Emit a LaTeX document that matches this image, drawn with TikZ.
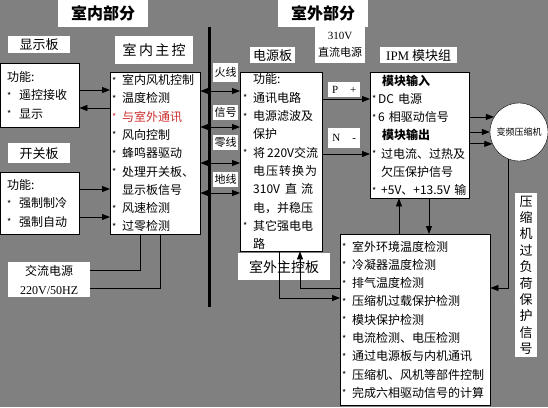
\documentclass[tikz,border=0pt]{standalone}
\usepackage{fontspec}
\newfontfamily\cjk{Noto Sans CJK SC}
\newfontfamily\lat{Liberation Serif}
\usetikzlibrary{arrows.meta}
\definecolor{panelgray}{RGB}{128,128,128}
\definecolor{linkred}{RGB}{205,45,45}
\newcommand{\itemstar}[1][10pt]{\makebox[#1][l]{\raisebox{0.5pt}{\small *}}}

\begin{document}
\begin{tikzpicture}[x=1pt,y=-1pt,>={Triangle[length=8pt,width=6pt]},
  title box/.style={fill=white,inner sep=0pt,anchor=north west,minimum height=27pt,font=\cjk\bfseries\fontsize{16}{16}\selectfont},
  tag box/.style={fill=white,inner sep=0pt,anchor=north west,align=center,font=\cjk\fontsize{13}{15}\selectfont},
  func box/.style={draw=black,fill=white,anchor=north west,align=left,inner xsep=2pt,inner ysep=0pt,font=\cjk\fontsize{12}{18.3}\selectfont},
  wire tag/.style={fill=white,inner sep=0pt,anchor=north west,minimum width=25pt,minimum height=15pt,font=\cjk\fontsize{11}{11}\selectfont},
  link/.style={->,line width=0.8pt}]
\tikzstyle{plain link} = [draw,line width=0.8pt,-]

\useasboundingbox[fill=panelgray] (0,0) rectangle (548,407);

% titles
\node[title box,minimum width=90pt] (indoor) at (58,0) {室内部分};
\node[title box,minimum width=90pt] (outdoor) at (278,0) {室外部分};
\node[tag box,minimum width=50pt,minimum height=36pt,font=\cjk\fontsize{11}{17}\selectfont] (dcbus) at (315,27) {{\lat 310V}\\直流电源};

% board names
\node[tag box,minimum width=62pt,minimum height=17pt] (disptag) at (8,36) {显示板};
\node[tag box,minimum width=78pt,minimum height=28pt,font=\cjk\fontsize{14}{14}\selectfont] (maintag) at (115,36) {室\,内\,主\,控};
\node[tag box,minimum width=45pt,minimum height=16pt] (powtag) at (250,47) {电源板};
\node[tag box,minimum width=77pt,minimum height=16pt] (ipmtag) at (380,47) {{\lat IPM}\ 模块组};
\node[tag box,minimum width=62pt,minimum height=20pt] (swtag) at (8,143) {开关板};
\node[tag box,minimum width=82pt,minimum height=35pt,font=\cjk\fontsize{12}{19}\selectfont] (actag) at (8,262) {交流电源\\{\lat 220V/50HZ}};

% indoor side
\node[func box,inner xsep=7pt,text width=65pt,minimum height=64pt] (dispbox) at (0,63)
  {功能:\\\itemstar[12pt]遥控接收\\\itemstar[12pt]显示};
\node[func box,inner xsep=7pt,text width=65pt,minimum height=62pt] (swbox) at (0,172)
  {功能:\\\itemstar[12pt]强制制冷\\\itemstar[12pt]强制自动};
\node[func box,text width=86pt,minimum height=162pt] (mainbox) at (110,72)
  {\itemstar 室内风机控制\\
   \itemstar 温度检测\\
   {\color{linkred}\itemstar 与室外通讯}\\
   \itemstar 风向控制\\
   \itemstar 蜂鸣器驱动\\
   \itemstar 处理开关板、\\
   \hspace*{10pt}显示板信号\\
   \itemstar 风速检测\\
   \itemstar 过零检测};

% outdoor side
\node[func box,inner xsep=3pt,text width=76pt,minimum height=179pt] (powbox) at (240,72)
  {\hspace*{10pt}功能:\\
   \itemstar 通讯电路\\
   \itemstar 电源滤波及\\
   \hspace*{10pt}保护\\
   \itemstar 将\,220V交流\\
   \hspace*{10pt}电\hspace{1pt}压\hspace{1pt}转\hspace{1pt}换\hspace{1pt}为\\
   \hspace*{10pt}310V\hspace{5pt}直\hspace{4pt}流\\
   \hspace*{10pt}电，并稳压\\
   \itemstar 其它强电电\\
   \hspace*{10pt}路};
\node[tag box,minimum width=92pt,minimum height=27pt,font=\cjk\fontsize{14}{14}\selectfont] (outtag) at (238,253) {室外主控板};
\node[func box,text width=95pt,minimum height=126pt] (ipmbox) at (370,72)
  {\hspace*{10pt}{\bfseries 模块输入}\\
   \itemstar[6pt]DC 电源\\
   \itemstar[6pt]6 相驱动信号\\
   \hspace*{10pt}{\bfseries 模块输出}\\
   \itemstar[9pt]过电流、过热及\\
   \hspace*{9pt}欠压保护信号\\
   \itemstar[9pt]+5V、+13.5V 输};
\node[func box,text width=146pt,minimum height=171pt] (outbox) at (340,234)
  {\itemstar 室外环境温度检测\\
   \itemstar 冷凝器温度检测\\
   \itemstar 排气温度检测\\
   \itemstar 压缩机过载保护检测\\
   \itemstar 模块保护检测\\
   \itemstar 电流检测、电压检测\\
   \itemstar 通过电源板与内机通讯\\
   \itemstar 压缩机、风机等部件控制\\
   \itemstar 完成六相驱动信号的计算};
\node[tag box,minimum width=32pt,minimum height=15pt,font=\lat\fontsize{11}{11}\selectfont] (pplus) at (328,82) {P\hspace{12pt}+};
\node[tag box,minimum width=32pt,minimum height=20pt,font=\lat\fontsize{11}{11}\selectfont] (nminus) at (328,128) {N\hspace{12pt}-};
\node[circle,draw=black,fill=white,minimum size=58pt,inner sep=0pt,font=\cjk\fontsize{9}{9}\selectfont] (comp) at (519,132) {变频压缩机};
\node[tag box,minimum width=22pt,minimum height=164pt,font=\cjk\fontsize{13}{16.4}\selectfont] (overload) at (515,193)
  {压\\缩\\机\\过\\负\\荷\\保\\护\\信\\号};

% wires across the wall
\coordinate (walltop) at (209,27);
\coordinate (wallbot) at (209,307);
\draw[line width=3pt] (walltop) -- (wallbot);
\node[wire tag,minimum height=19pt] (live) at (213,63) {火线};
\node[wire tag] (signal) at (213,105) {信号};
\node[wire tag] (neutral) at (213,135) {零线};
\node[wire tag] (earth) at (213,172) {地线};
\draw[<->,line width=0.8pt] (mainbox.east |- 0,91) -- (powbox.west |- 0,91);
\draw[<->,line width=0.8pt] (mainbox.east |- 0,127) -- (powbox.west |- 0,127);
\draw[<->,line width=0.8pt] (mainbox.east |- 0,163) -- (powbox.west |- 0,163);
\draw[<->,line width=0.8pt] (mainbox.east |- 0,193) -- (powbox.west |- 0,193);

% indoor links
\draw[link] (dispbox.east |- 0,90) -- (mainbox.west |- 0,90);
\draw[link] (mainbox.west |- 0,108) -- (dispbox.east |- 0,108);
\draw[link] (swbox.east |- 0,189) -- (mainbox.west |- 0,189);
\draw[link] (swbox.east |- 0,217) -- (mainbox.west |- 0,217);
\draw[plain link] (actag.east |- 0,270) -| (mainbox.south -| 140,0);
\draw[plain link] (actag.east |- 0,288) -| (mainbox.south -| 160,0);

% outdoor links
\draw[link] (powbox.east |- 0,99) -- (ipmbox.west |- 0,99);
\draw[link] (powbox.east |- 0,154) -- (ipmbox.west |- 0,154);
\draw[link] (ipmbox.east |- comp.149) -- (comp.149);
\draw[link] (ipmbox.east |- comp.180) -- (comp.180);
\draw[link] (ipmbox.east |- comp.204) -- (comp.204);
\draw[link] (comp.248) |- (outbox.east |- 0,288);
\draw[link] (outbox.north -| 399,0) -- (ipmbox.south -| 399,0);
\draw[link] (ipmbox.south -| 429,0) -- (outbox.north -| 429,0);
\draw[link] (powbox.south -| 279,0) |- (outbox.west |- 0,298);
\draw[link] (outbox.west |- 0,288) -| (powbox.south -| 300,0);

\end{tikzpicture}
\end{document}
